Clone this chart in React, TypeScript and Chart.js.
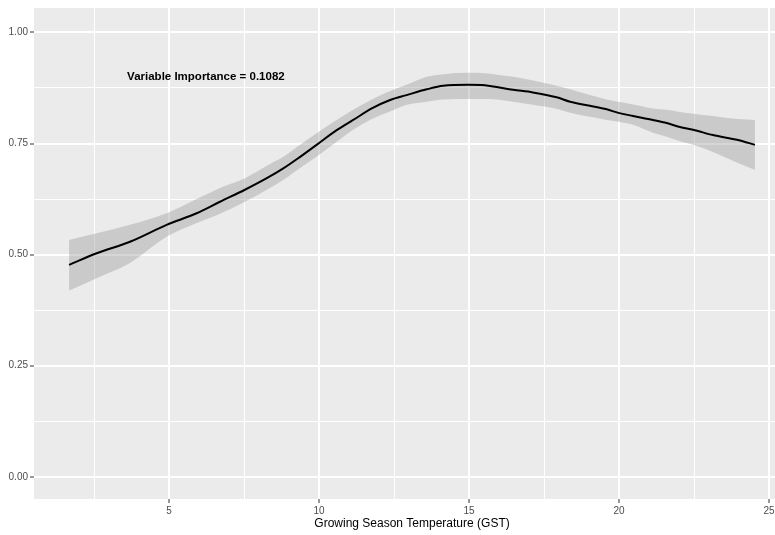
import { useEffect, useRef } from 'react';
import { Chart, registerables } from 'chart.js';

Chart.register(...registerables);

// Growing season temperature grid of the partial-dependence curve
const gstValues = [1.67, 2.59, 3.7, 4.92, 5.92, 6.7, 7.53, 8.26, 8.81, 9.37, 9.92, 10.59, 11.14, 11.76, 12.37, 12.92, 13.59, 14.14, 14.98, 15.53, 15.92, 16.47, 17.13, 17.92, 18.37, 19.03, 19.59, 19.98, 20.47, 21.13, 21.59, 22.03, 22.47, 23.13, 23.97, 24.53];
// Smoothed response
const fitValues = [0.477, 0.503, 0.529, 0.567, 0.593, 0.619, 0.646, 0.672, 0.694, 0.72, 0.747, 0.78, 0.803, 0.829, 0.848, 0.859, 0.872, 0.88, 0.882, 0.881, 0.877, 0.871, 0.865, 0.854, 0.844, 0.835, 0.827, 0.819, 0.812, 0.803, 0.796, 0.787, 0.781, 0.769, 0.758, 0.747];
// Confidence band
const upperValues = [0.533, 0.548, 0.567, 0.593, 0.625, 0.65, 0.672, 0.7, 0.72, 0.747, 0.773, 0.803, 0.826, 0.849, 0.868, 0.882, 0.9, 0.906, 0.909, 0.908, 0.905, 0.9, 0.892, 0.88, 0.872, 0.859, 0.849, 0.844, 0.838, 0.829, 0.826, 0.821, 0.817, 0.812, 0.805, 0.803];
const lowerValues = [0.419, 0.447, 0.481, 0.54, 0.571, 0.592, 0.619, 0.646, 0.668, 0.695, 0.72, 0.754, 0.781, 0.805, 0.822, 0.837, 0.844, 0.849, 0.85, 0.85, 0.849, 0.844, 0.837, 0.828, 0.819, 0.81, 0.803, 0.799, 0.792, 0.774, 0.765, 0.755, 0.747, 0.731, 0.706, 0.691];

// Axis breaks
const xMajorTicks = [5, 10, 15, 20, 25];
const xMinorTicks = [2.5, 7.5, 12.5, 17.5, 22.5];
const yMajorTicks = [0, 0.25, 0.5, 0.75, 1];
const yMinorTicks = [0.125, 0.375, 0.625, 0.875];

const xTitle = 'Growing Season Temperature (GST)';
const importanceText = 'Variable Importance = 0.1082';
const importanceX = 6.23;
const importanceY = 0.9;

const FONT = '"Liberation Sans", Arial, sans-serif';

const toPoints = (ys: number[]) => ys.map((y, i) => ({ x: gstValues[i], y }));
const isMajor = (list: number[], v: number) => list.some((m) => Math.abs(m - v) < 1e-9);

const panelBackground = {
  id: 'panelBackground',
  beforeDraw(chart: any) {
    const { ctx, chartArea } = chart;
    ctx.save();
    ctx.fillStyle = '#EBEBEB';
    ctx.fillRect(chartArea.left, chartArea.top, chartArea.right - chartArea.left, chartArea.bottom - chartArea.top);
    ctx.restore();
  },
};

const importanceLabel = {
  id: 'importanceLabel',
  afterDatasetsDraw(chart: any) {
    const { ctx, scales } = chart;
    ctx.save();
    ctx.font = `bold 11.5px ${FONT}`;
    ctx.fillStyle = '#000000';
    ctx.textAlign = 'center';
    ctx.textBaseline = 'middle';
    ctx.fillText(importanceText, scales.x.getPixelForValue(importanceX), scales.y.getPixelForValue(importanceY));
    ctx.restore();
  },
};

export default function App() {
  const canvasRef = useRef<HTMLCanvasElement>(null);

  useEffect(() => {
    const canvas = canvasRef.current;
    if (!canvas) return;
    const chart = new Chart(canvas, {
      type: 'line',
      data: {
        datasets: [
          {
            label: 'fit',
            data: toPoints(fitValues),
            borderColor: '#000000',
            borderWidth: 2,
            pointRadius: 0,
            cubicInterpolationMode: 'monotone',
            fill: false,
            order: 0,
          },
          {
            label: 'lower',
            data: toPoints(lowerValues),
            borderWidth: 0,
            borderColor: 'rgba(0,0,0,0)',
            pointRadius: 0,
            cubicInterpolationMode: 'monotone',
            fill: false,
            order: 2,
          },
          {
            label: 'upper',
            data: toPoints(upperValues),
            borderWidth: 0,
            borderColor: 'rgba(0,0,0,0)',
            backgroundColor: 'rgba(153,153,153,0.4)',
            pointRadius: 0,
            cubicInterpolationMode: 'monotone',
            fill: 1,
            order: 1,
          },
        ],
      },
      options: {
        responsive: false,
        animation: false,
        devicePixelRatio: 1,
        layout: { padding: { left: 0, right: 10, top: 8, bottom: 0 } },
        plugins: { legend: { display: false }, tooltip: { enabled: false } },
        scales: {
          x: {
            type: 'linear',
            min: 0.5,
            max: 25.7,
            afterBuildTicks: (s: any) => {
              s.ticks = [...xMinorTicks, ...xMajorTicks].sort((a, b) => a - b).map((value) => ({ value }));
            },
            afterFit: (s: any) => {
              s.height = 36;
            },
            border: { display: false },
            grid: {
              color: '#FFFFFF',
              lineWidth: (c: any) => (isMajor(xMajorTicks, c.tick.value) ? 2 : 1),
              tickColor: (c: any) => (isMajor(xMajorTicks, c.tick.value) ? '#333333' : 'rgba(0,0,0,0)'),
              tickLength: 4,
              tickWidth: 1,
            },
            ticks: {
              autoSkip: false,
              maxRotation: 0,
              padding: 2,
              color: '#4D4D4D',
              font: { family: FONT, size: 10 },
              callback: (v: any) => (isMajor(xMajorTicks, Number(v)) ? String(v) : ''),
            },
            title: {
              display: true,
              text: xTitle,
              color: '#000000',
              font: { family: FONT, size: 12 },
              padding: { top: 0, bottom: 4 },
            },
          },
          y: {
            type: 'linear',
            min: -0.05,
            max: 1.055,
            afterBuildTicks: (s: any) => {
              s.ticks = [...yMinorTicks, ...yMajorTicks].sort((a, b) => a - b).map((value) => ({ value }));
            },
            afterFit: (s: any) => {
              s.width = 34;
            },
            border: { display: false },
            grid: {
              color: '#FFFFFF',
              lineWidth: (c: any) => (isMajor(yMajorTicks, c.tick.value) ? 2 : 1),
              tickColor: (c: any) => (isMajor(yMajorTicks, c.tick.value) ? '#333333' : 'rgba(0,0,0,0)'),
              tickLength: 4,
              tickWidth: 1,
            },
            ticks: {
              autoSkip: false,
              padding: 2,
              color: '#4D4D4D',
              font: { family: FONT, size: 10 },
              callback: (v: any) => (isMajor(yMajorTicks, Number(v)) ? Number(v).toFixed(2) : ''),
            },
          },
        },
      },
      plugins: [panelBackground, importanceLabel],
    });
    return () => chart.destroy();
  }, []);

  return (
    <div style={{ position: 'fixed', left: 0, top: 0, width: 775, height: 535, overflow: 'hidden', background: '#FFFFFF' }}>
      <canvas ref={canvasRef} width={800} height={535} style={{ display: 'block', width: 800, height: 535 }} />
    </div>
  );
}
